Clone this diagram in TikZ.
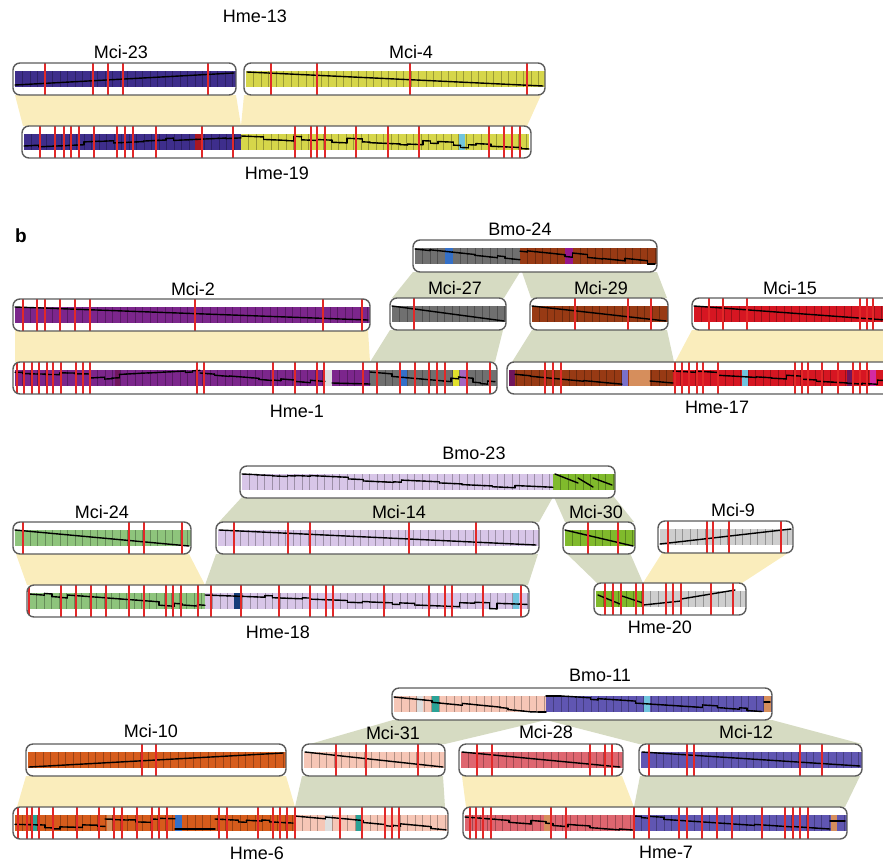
\documentclass[tikz,border=0pt]{standalone}
\usepackage{fontspec}
\setmainfont{Liberation Sans}
% Màu nền các vùng nối
\definecolor{synvang}{RGB}{250,237,188}
\definecolor{synxanh}{RGB}{214,219,194}
\definecolor{vien}{RGB}{92,92,92}
\definecolor{vachdo}{RGB}{226,40,40}
% Màu các nhiễm sắc thể
\definecolor{cIndigo}{RGB}{62,46,140}
\definecolor{cOlive}{RGB}{214,214,74}
\definecolor{cPurple}{RGB}{124,38,140}
\definecolor{cGrey}{RGB}{112,112,112}
\definecolor{cBrown}{RGB}{152,58,20}
\definecolor{cRed}{RGB}{214,22,34}
\definecolor{cGreen}{RGB}{142,196,124}
\definecolor{cLav}{RGB}{216,198,232}
\definecolor{cLime}{RGB}{128,186,44}
\definecolor{cSilver}{RGB}{206,206,206}
\definecolor{cOrange}{RGB}{214,92,28}
\definecolor{cPeach}{RGB}{246,198,182}
\definecolor{cRose}{RGB}{222,102,112}
\definecolor{cSlate}{RGB}{96,86,178}
% Màu các đoạn nhỏ
\definecolor{bDarkred}{RGB}{168,22,34}
\definecolor{bSky}{RGB}{112,196,222}
\definecolor{bBlue}{RGB}{52,112,200}
\definecolor{bMagenta}{RGB}{150,22,140}
\definecolor{bPale}{RGB}{222,222,222}
\definecolor{bYellow}{RGB}{226,226,44}
\definecolor{bViolet}{RGB}{162,102,192}
\definecolor{bPeri}{RGB}{122,112,202}
\definecolor{bTan}{RGB}{214,142,92}
\definecolor{bPlum}{RGB}{112,22,92}
\definecolor{bPink}{RGB}{212,42,162}
\definecolor{bNavy}{RGB}{22,62,122}
\definecolor{bTeal}{RGB}{42,162,150}
% Hộp nhiễm sắc thể: x trái, x phải, y trên, nội dung
\newcommand{\chrom}[4]{%
  \def\cy{#3}%
  \begin{scope}
    \clip[rounded corners=7pt] (#1,#3) rectangle (#2,#3+32);
    \fill[white] (#1,#3) rectangle (#2,#3+32);
    #4
  \end{scope}
  \draw[chrbox] (#1,#3) rectangle (#2,#3+32);}
% Dải màu có vạch ô
\newcommand{\seg}[3]{%
  \fill[#3] (#1,\cy+8) rectangle (#2,\cy+24);
  \pgfmathtruncatemacro{\nc}{(#2-#1)/7.5}%
  \ifnum\nc>0
  \foreach \k in {1,...,\nc}
    \draw[#3!72!black, line width=0.45pt] ({#1+\k*7.5},\cy+8) -- ({#1+\k*7.5},\cy+24);
  \fi}
\newcommand{\blk}[3]{\fill[#3] (#1,\cy+8) rectangle (#2,\cy+24);}
\newcommand{\reds}[1]{\foreach \rx in {#1} \draw[redl] (\rx,\cy) -- (\rx,\cy+32);}
\newcommand{\gline}[4]{\draw[gene] (#1,\cy+#2) -- (#3,\cy+#4);}
% Đường bậc thang: x1, dy1, x2, dy2, độ lệch
\newcommand{\stair}[5]{%
  \pgfmathtruncatemacro{\nst}{max(1,round((#3-#1)/7.5))}%
  \xdef\jold{0}%
  \foreach \k in {1,...,\nst}{
    \pgfmathsetmacro{\jj}{rnd<0.35 ? #5*(2*rnd-1) : \jold}
    \pgfmathsetmacro{\xa}{#1+(\k-1)*(#3-#1)/\nst}
    \pgfmathsetmacro{\xb}{#1+\k*(#3-#1)/\nst}
    \pgfmathsetmacro{\ya}{min(\cy+24,max(\cy+8,\cy+#2+(\k-1)*(#4-#2)/\nst+\jj))}
    \pgfmathsetmacro{\yb}{min(\cy+24,max(\cy+8,\cy+#2+\k*(#4-#2)/\nst+\jj))}
    \ifnum\k>1 \draw[gene] (\xa,\yprev) -- (\xa,\ya); \fi
    \draw[gene] (\xa,\ya) -- (\xb,\yb);
    \xdef\yprev{\yb}\xdef\jold{\jj}
  }}

\begin{document}
\begin{tikzpicture}[x=1pt, y=-1pt,
  chrbox/.style={draw=vien, line width=1.4pt, rounded corners=7pt},
  redl/.style={draw=vachdo, line width=1.25pt},
  gene/.style={draw=black, line width=1.4pt, line cap=round},
  syny/.style={fill=synvang},
  syng/.style={fill=synxanh},
  lab/.style={font=\fontsize{18}{21}\selectfont, inner sep=0pt}]
	\useasboundingbox (0,0) rectangle (883,865);
	\clip (0,0) rectangle (883,865);
	\pgfmathsetseed{7}
	% Phần a
	\node[lab] (hme13) at (255,16) {Hme-13};
	\fill[syny] (15,95) -- (236,95) -- (241,126) -- (23,126) -- cycle;
	\fill[syny] (244,95) -- (541,95) -- (527,126) -- (241,126) -- cycle;
	\chrom{13}{236}{63}{\seg{15}{236}{cIndigo} \gline{15}{22}{234}{10} \reds{45,93,108,123,208}}
	\chrom{244}{545}{63}{\seg{246}{545}{cOlive} \gline{247}{9}{543}{23} \reds{271,317,410,527}}
	\chrom{22}{531}{126}{\seg{24}{241}{cIndigo} \seg{241}{529}{cOlive} \blk{195}{202}{bDarkred} \blk{459}{465}{bSky}
		\stair{24}{20}{241}{10}{2} \stair{241}{10}{529}{22}{3}
		\reds{40,55,64,71,79,94,117,125,133,156,202,233,295,311,317,325,356,388,419,489,504,512,520}}
	\node[lab] (mci23) at (121,52) {Mci-23};
	\node[lab] (mci4) at (411,52) {Mci-4};
	\node[lab] (hme19) at (277,173) {Hme-19};
	% Phần b
	\node[font=\fontsize{19}{22}\selectfont\bfseries, inner sep=0pt] (b) at (21,236) {b};
	% Hàng 1: vùng nối
	\fill[syny] (15,330) -- (368,330) -- (370,362) -- (15,362) -- cycle;
	\fill[syng] (413,272) -- (520,272) -- (504,298) -- (392,298) -- cycle;
	\fill[syng] (522,272) -- (657,272) -- (667,298) -- (531,298) -- cycle;
	\fill[syng] (390,330) -- (503,330) -- (495,362) -- (370,362) -- cycle;
	\fill[syng] (532,330) -- (667,330) -- (674,362) -- (512,362) -- cycle;
	\fill[syny] (692,330) -- (900,330) -- (900,362) -- (675,362) -- cycle;
	% Hàng 1: nhiễm sắc thể
	\chrom{413}{657}{240}{\seg{415}{520}{cGrey} \seg{520}{657}{cBrown} \blk{445}{453}{bBlue} \blk{565}{573}{bMagenta}
		\stair{415}{9}{520}{20}{2} \stair{520}{9}{655}{23}{3}}
	\chrom{13}{370}{299}{\seg{15}{370}{cPurple} \gline{15}{8}{368}{21} \reds{23,37,45,60,75,90,195,323,362}}
	\chrom{390}{506}{298}{\seg{392}{506}{cGrey} \gline{392}{8}{504}{23} \reds{414}}
	\chrom{530}{668}{298}{\seg{532}{668}{cBrown} \gline{532}{8}{666}{23} \reds{575,628,651}}
	\chrom{692}{910}{298}{\seg{694}{910}{cRed} \gline{694}{8}{900}{23} \reds{709,723,747,860,867,873}}
	\chrom{13}{497}{362}{\seg{15}{325}{cPurple} \blk{325}{332}{bPale} \seg{332}{370}{cPurple} \seg{370}{497}{cGrey}
		\blk{115}{120}{bPlum} \blk{401}{407}{bBlue} \blk{453}{459}{bYellow} \blk{460}{466}{bViolet}
		\stair{15}{11}{90}{12}{1} \stair{90}{16}{200}{10}{2} \stair{200}{11}{325}{21}{2} \gline{332}{21}{370}{22} \stair{370}{10}{495}{21}{3}
		\reds{17,24,32,39,47,53,61,76,83,90,197,204,273,295,317,324,363,377,400,415,429,437,445,467,490}}
	\chrom{507}{910}{362}{\seg{509}{673}{cBrown} \seg{673}{910}{cRed} \blk{509}{515}{bPlum} \blk{622}{628}{bPeri} \blk{629}{650}{bTan}
		\blk{742}{748}{bSky} \blk{847}{853}{bPlum} \blk{870}{876}{bPink}
		\stair{515}{10}{622}{20}{3} \gline{650}{19}{673}{21} \stair{673}{9}{900}{22}{3}
		\reds{545,553,561,675,682,689,697,703,718,795,802,808,822,838,853,860,867}}
	\node[lab] (bmo24) at (520,229) {Bmo-24};
	\node[lab] (mci2) at (193,289) {Mci-2};
	\node[lab] (mci27) at (455,288) {Mci-27};
	\node[lab] (mci29) at (601,288) {Mci-29};
	\node[lab] (mci15) at (790,288) {Mci-15};
	\node[lab] (hme1) at (297,411) {Hme-1};
	\node[lab] (hme17) at (717,407) {Hme-17};
	% Hàng 2: vùng nối
	\fill[syng] (242,497) -- (553,497) -- (539,522) -- (219,522) -- cycle;
	\fill[syng] (554,497) -- (614,497) -- (634,522) -- (565,522) -- cycle;
	\fill[syny] (16,554) -- (189,554) -- (205,585) -- (27,585) -- cycle;
	\fill[syng] (216,554) -- (538,554) -- (528,585) -- (205,585) -- cycle;
	\fill[syng] (566,553) -- (630,553) -- (643,583) -- (597,583) -- cycle;
	\fill[syny] (662,553) -- (788,553) -- (742,583) -- (643,583) -- cycle;
	% Hàng 2: nhiễm sắc thể
	\chrom{240}{615}{466}{\seg{242}{553}{cLav} \seg{553}{615}{cLime}
		\stair{242}{8}{553}{22}{2} \gline{555}{8}{578}{17} \gline{578}{12}{593}{21} \gline{593}{12}{612}{19}}
	\chrom{13}{191}{522}{\seg{15}{191}{cGreen} \gline{15}{8}{189}{24} \reds{23,129,144,182}}
	\chrom{216}{539}{522}{\seg{218}{539}{cLav} \gline{219}{8}{536}{23} \reds{234,288,310,409,476}}
	\chrom{563}{635}{522}{\seg{565}{635}{cLime} \gline{565}{8}{633}{24} \reds{588,618}}
	\chrom{658}{793}{521}{\seg{660}{793}{cSilver} \gline{660}{23}{791}{8} \reds{668,707,713,729,781}}
	\chrom{27}{529}{585}{\seg{29}{205}{cGreen} \seg{205}{529}{cLav} \blk{234}{240}{bNavy} \blk{513}{519}{bSky}
		\stair{29}{9}{205}{22}{2} \stair{205}{10}{527}{22}{3}
		\reds{29,61,76,91,106,129,144,166,173,181,198,211,241,279,310,326,333,384,429,445,452,483,521}}
	\chrom{594}{746}{583}{\seg{596}{643}{cLime} \seg{643}{746}{cSilver}
		\gline{598}{12}{620}{21} \gline{622}{13}{643}{20} \gline{643}{22}{681}{18} \gline{681}{16}{735}{7}
		\reds{605,613,621,636,643,666,673,681,711,733}}
	\node[lab] (bmo23) at (474,453) {Bmo-23};
	\node[lab] (mci24) at (102,512) {Mci-24};
	\node[lab] (mci14) at (399,512) {Mci-14};
	\node[lab] (mci30) at (596,512) {Mci-30};
	\node[lab] (mci9) at (733,510) {Mci-9};
	\node[lab] (hme18) at (278,632) {Hme-18};
	\node[lab] (hme20) at (660,627) {Hme-20};
	% Hàng 3: vùng nối
	\fill[syng] (393,720) -- (546,720) -- (445,744) -- (310,744) -- cycle;
	\fill[syng] (546,720) -- (772,720) -- (862,744) -- (639,744) -- cycle;
	\fill[syny] (26,776) -- (286,776) -- (295,807) -- (17,807) -- cycle;
	\fill[syng] (302,776) -- (443,776) -- (445,807) -- (295,807) -- cycle;
	\fill[syny] (462,776) -- (622,776) -- (634,807) -- (466,807) -- cycle;
	\fill[syng] (640,776) -- (860,776) -- (845,807) -- (634,807) -- cycle;
	% Hàng 3: nhiễm sắc thể
	\chrom{392}{772}{688}{\seg{394}{546}{cPeach} \seg{546}{772}{cSlate} \blk{417}{423}{bPale} \blk{432}{439}{bTeal} \blk{644}{650}{bSky} \blk{764}{771}{bTan}
		\stair{394}{9}{546}{24}{3} \stair{546}{8}{762}{22}{2} \gline{764}{14}{770}{14}}
	\chrom{26}{286}{744}{\seg{28}{286}{cOrange} \gline{29}{23}{283}{9} \reds{142,156}}
	\chrom{302}{445}{744}{\seg{304}{445}{cPeach} \gline{305}{8}{443}{23} \reds{336,366,418}}
	\chrom{459}{623}{744}{\seg{461}{623}{cRose} \gline{462}{8}{620}{23} \reds{477,492,590,605,612}}
	\chrom{639}{862}{744}{\seg{641}{862}{cSlate} \gline{642}{8}{860}{22} \reds{649,687,694,800,822}}
	\chrom{13}{448}{807}{\seg{15}{295}{cOrange} \seg{295}{448}{cPeach} \blk{33}{37}{bTeal} \blk{107}{112}{bTan} \blk{175}{182}{bBlue} \blk{325}{332}{bPale} \blk{356}{361}{bTeal}
		\stair{15}{18}{105}{20}{3} \stair{105}{12}{175}{14}{3} \gline{175}{22}{215}{22} \stair{215}{12}{293}{16}{2} \stair{295}{9}{446}{23}{2}
		\reds{18,27,32,39,53,77,99,114,122,137,152,159,167,219,227,258,273,280,287,295,340,362,385,392,399}}
	\chrom{463}{847}{807}{\seg{465}{634}{cRose} \seg{634}{847}{cSlate} \blk{544}{550}{bTan} \blk{831}{837}{bTan}
		\stair{465}{10}{634}{23}{2} \stair{634}{9}{830}{22}{2} \gline{830}{14}{845}{14}
		\reds{470,476,483,491,551,566,634,649,679,687,702,717,732,762,785,793,800,808}}
	\node[lab] (bmo11) at (600,675) {Bmo-11};
	\node[lab] (mci10) at (151,731) {Mci-10};
	\node[lab] (mci31) at (393,733) {Mci-31};
	\node[lab] (mci28) at (546,732) {Mci-28};
	\node[lab] (mci12) at (746,732) {Mci-12};
	\node[lab] (hme6) at (257,853) {Hme-6};
	\node[lab] (hme7) at (666,852) {Hme-7};
\end{tikzpicture}
\end{document}
